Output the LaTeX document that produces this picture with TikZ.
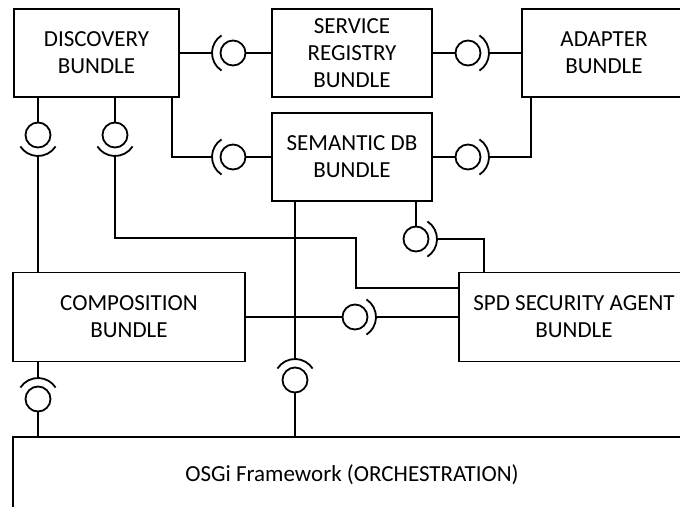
\documentclass[tikz,border=0pt]{standalone}
\usepackage{fontspec}
\setmainfont{Carlito}
\begin{document}
\begin{tikzpicture}[x=1pt, y=-1pt, line width=1.8pt,
  bundle/.style={draw, rectangle, inner sep=0pt, outer sep=0pt, align=center,
    font=\fontsize{23}{27}\selectfont},
  % provided interface (ball) with the matching required socket
  lollipop/.pic={
    \draw (0,0) circle[radius=12.5];
    \draw (-57:21) arc[start angle=-57, end angle=57, radius=21];
    \coordinate (-ball) at (-12.5,0);
    \coordinate (-sock) at (21,0);
    \coordinate (-up) at (0,-12.5);
  }]
\useasboundingbox (0,0) rectangle (680,506);
\clip (0,0) rectangle (680,506);

% bundles
\node[bundle, minimum width=165, minimum height=88] (disc)  at (96.5,53) {DISCOVERY\\BUNDLE};
\node[bundle, minimum width=160, minimum height=88] (sreg)  at (352,53)  {SERVICE\\REGISTRY\\BUNDLE};
\node[bundle, minimum width=164, minimum height=88] (adapt) at (604,53)  {ADAPTER\\BUNDLE};
\node[bundle, minimum width=160, minimum height=88] (sdb)   at (352,157) {SEMANTIC DB\\BUNDLE};
\node[bundle, minimum width=232, minimum height=89] (comp)  at (129,317) {COMPOSITION\\BUNDLE};
\node[bundle, minimum width=230, minimum height=89] (spd)   at (574,317) {SPD SECURITY AGENT\\BUNDLE};
\node[bundle, minimum width=678, minimum height=76] (osgi)  at (352,475) {OSGi Framework (ORCHESTRATION)};

% interfaces
\pic[rotate=180] (A) at (233,53)  {lollipop};
\pic[rotate=180] (B) at (233,157) {lollipop};
\pic             (C) at (468,53)  {lollipop};
\pic             (D) at (468,157) {lollipop};
\pic[rotate=-90] (E) at (38,135)  {lollipop};
\pic[rotate=-90] (F) at (115,135) {lollipop};
\pic             (G) at (416,239) {lollipop};
\pic             (H) at (355,317) {lollipop};
\pic[rotate=90]  (I) at (295,380) {lollipop};
\pic[rotate=90]  (J) at (38,399)  {lollipop};

% bend points
\coordinate (kB)  at (172,157);
\coordinate (kD)  at (531,157);
\coordinate (kF1) at (115,238);
\coordinate (kF2) at (356,238);
\coordinate (kF3) at (356,288);
\coordinate (kG)  at (484,239);

% connectors
\draw (disc.east) -- (A-sock);
\draw (A-ball) -- (sreg.west);
\draw (disc.south -| kB) -- (kB) -- (B-sock);
\draw (B-ball) -- (sdb.west);
\draw (sreg.east) -- (C-ball);
\draw (C-sock) -- (adapt.west);
\draw (sdb.east) -- (D-ball);
\draw (D-sock) -- (kD) -- (kD |- adapt.south);
\draw (disc.south -| E-ball) -- (E-ball);
\draw (E-sock) -- (E-sock |- comp.north);
\draw (disc.south -| F-ball) -- (F-ball);
\draw (F-sock) -- (kF1) -- (kF2) -- (kF3) -- (kF3 -| spd.west);
\draw (sdb.south -| G-up) -- (G-up);
\draw (G-sock) -- (kG) -- (kG |- spd.north);
\draw (comp.east) -- (H-ball);
\draw (H-sock) -- (spd.west);
\draw (sdb.south -| I-sock) -- (I-sock);
\draw (I-ball) -- (I-ball |- osgi.north);
\draw (comp.south -| J-sock) -- (J-sock);
\draw (J-ball) -- (J-ball |- osgi.north);
\end{tikzpicture}
\end{document}
